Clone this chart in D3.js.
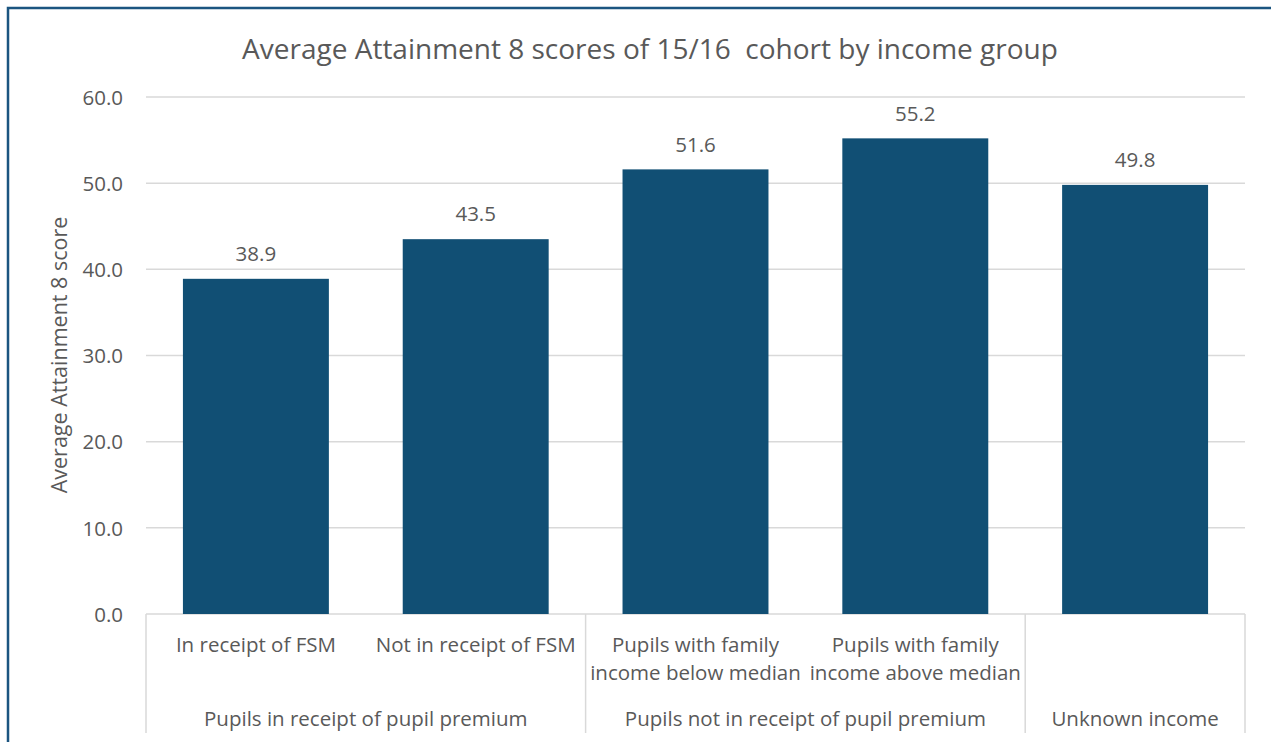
<!DOCTYPE html>
<html><head><meta charset="utf-8">
<script src="https://cdnjs.cloudflare.com/ajax/libs/d3/7.8.5/d3.min.js"></script>
<style>body{margin:0;background:#fff}svg{display:block}text{font-family:"Open Sans",sans-serif;fill:#595959}</style>
</head><body>
<script>
const categories = ["In receipt of FSM","Not in receipt of FSM","Pupils with family income below median","Pupils with family income above median",""];
const categoryLines = [["In receipt of FSM"],["Not in receipt of FSM"],["Pupils with family","income below median"],["Pupils with family","income above median"],[]];
const values = [38.9, 43.5, 51.6, 55.2, 49.8];
const groups = ["Pupils in receipt of pupil premium","Pupils not in receipt of pupil premium","Unknown income"];
const groupSizes = [2, 2, 1];
const yTicks = [0, 10, 20, 30, 40, 50, 60];
const title = "Average Attainment 8 scores of 15/16  cohort by income group";
const yTitle = "Average Attainment 8 score";

const W = 1271, H = 742;
const FS = 20.5;
const svg = d3.select("body").append("svg").attr("width", W).attr("height", H);
const L = 146, R = 1245, T = 97, B = 614;
const x = d3.scaleBand().domain(d3.range(categories.length)).range([L, R]).paddingInner(0.336).paddingOuter(0.168);
const y = d3.scaleLinear().domain([0, 60]).range([B, T]);

// border
svg.append("path").attr("d", `M8,${H} L8,8 L${W},8`).attr("fill","none").attr("stroke","#1b5580").attr("stroke-width",2.5);

// gridlines
svg.append("g").selectAll("line").data(yTicks).join("line")
  .attr("x1", L).attr("x2", R).attr("y1", d => y(d)).attr("y2", d => y(d))
  .attr("stroke", "#d9d9d9").attr("stroke-width", 1.5);

// y axis labels
const yAxis = d3.axisLeft(y).tickValues(yTicks).tickFormat(d3.format(".1f")).tickSize(0).tickPadding(0);
const ya = svg.append("g").attr("transform", `translate(123,0)`).call(yAxis);
ya.select(".domain").remove();
ya.selectAll("text").style("font-size", FS + "px").style("font-family",'"Open Sans",sans-serif').attr("fill","#595959").attr("dy","0.35em");

// bars
svg.append("g").selectAll("rect").data(values).join("rect")
  .attr("x", (d,i) => x(i)).attr("width", x.bandwidth())
  .attr("y", d => y(d)).attr("height", d => B - y(d)).attr("fill", "#114f74");

// data labels
svg.append("g").selectAll("text").data(values).join("text")
  .attr("x", (d,i) => x(i) + x.bandwidth()/2).attr("y", d => y(d) - 25).attr("dy","0.35em")
  .attr("text-anchor","middle").style("font-size", FS + "px").text(d => d.toFixed(1));

// category axis separators
const step = x.step();
let boundaries = [0]; let acc = 0;
groupSizes.forEach(s => { acc += s; boundaries.push(acc); });
svg.append("g").selectAll("line").data(boundaries).join("line")
  .attr("x1", d => L + d*step).attr("x2", d => L + d*step)
  .attr("y1", B).attr("y2", 733).attr("stroke","#d9d9d9").attr("stroke-width",1.5);

// category labels
categoryLines.forEach((lines, i) => {
  const cx = x(i) + x.bandwidth()/2;
  const t = svg.append("text").attr("text-anchor","middle").style("font-size", FS + "px");
  lines.forEach((ln, j) => t.append("tspan").attr("x", cx).attr("y", 645 + j*28).attr("dy","0.35em").text(ln));
});

// group labels
groups.forEach((g, gi) => {
  const cx = L + (boundaries[gi] + boundaries[gi+1]) / 2 * step;
  svg.append("text").attr("x", cx).attr("y", 719).attr("dy","0.35em").attr("text-anchor","middle").style("font-size", FS + "px").text(g);
});

// title
svg.append("text").attr("x", 650).attr("y", 49).attr("dy","0.35em").attr("text-anchor","middle").style("font-size","28px").attr("xml:space","preserve").style("white-space","pre").text(title);

// y title
svg.append("text").attr("transform", `translate(59,355) rotate(-90)`).attr("dy","0.35em").attr("text-anchor","middle").style("font-size","21.5px").text(yTitle);
</script>
</body></html>
